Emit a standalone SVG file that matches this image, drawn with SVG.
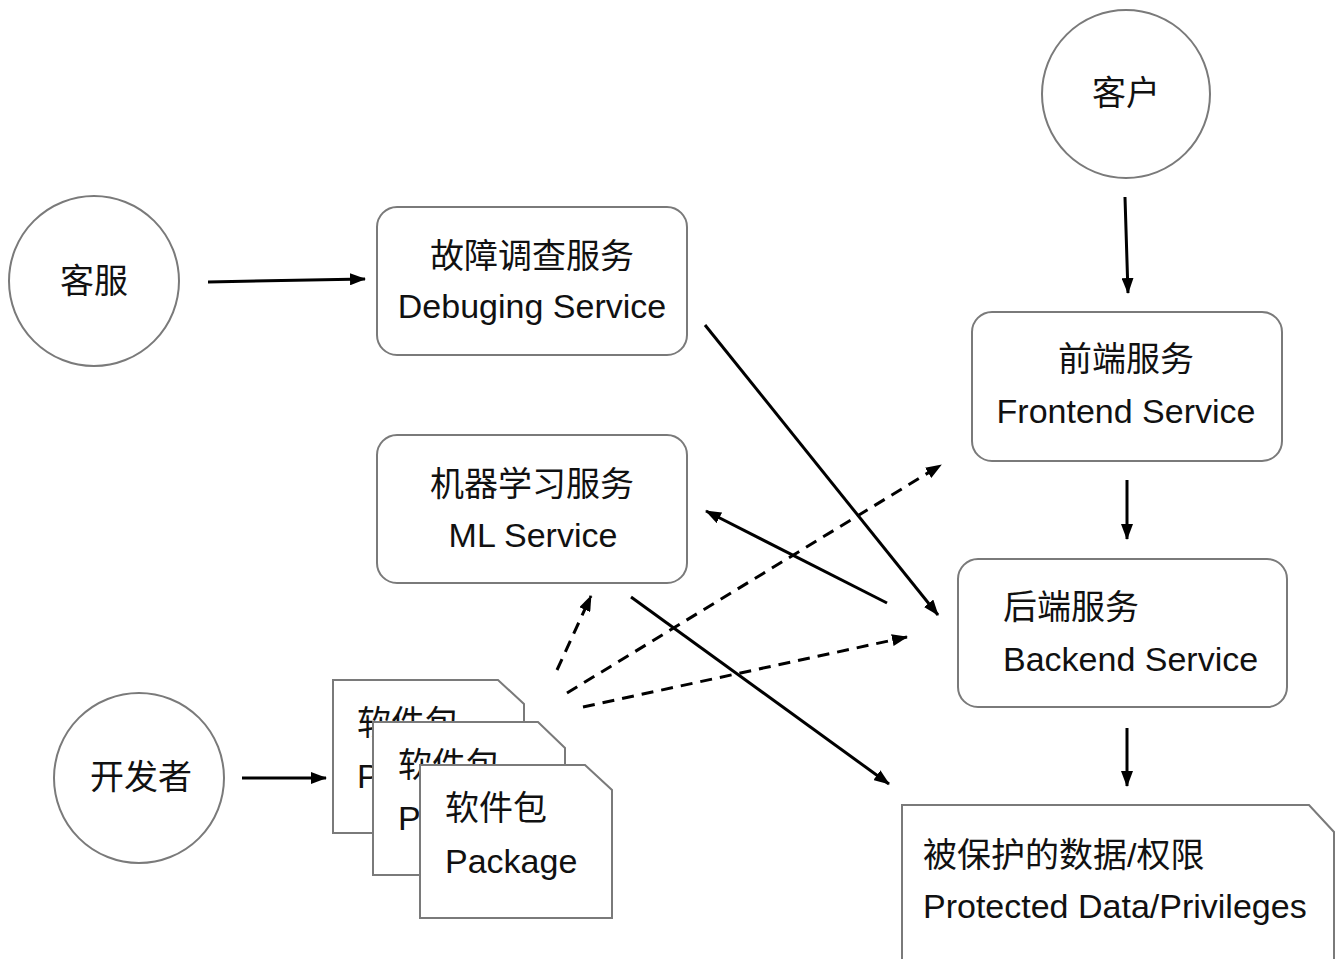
<svg xmlns="http://www.w3.org/2000/svg" width="1340" height="959" viewBox="0 0 1340 959">
<style>
.node{fill:#fff;stroke:#7a7a7a;stroke-width:2}
.t{font-family:"Liberation Sans","Noto Sans CJK SC",sans-serif;font-size:34px;fill:#111}
.c{text-anchor:middle}
.ln{stroke:#000;stroke-width:3;fill:none}
.d{stroke-dasharray:12 8}
</style>
<defs>
<marker id="ah" markerUnits="userSpaceOnUse" markerWidth="16" markerHeight="12" viewBox="0 0 16 12" refX="15" refY="6" orient="auto">
<path d="M0,0 L16,6 L0,12 z" fill="#000"/>
</marker>
</defs>
<rect width="1340" height="959" fill="#fff"/>
<g id="kehu">
<circle class="node" cx="1126" cy="94" r="84"/>
<text class="t c" x="1126" y="105">客户</text>
</g>
<g id="kefu">
<circle class="node" cx="94" cy="281" r="85"/>
<text class="t c" x="94" y="293">客服</text>
</g>
<g id="kaifazhe">
<circle class="node" cx="139" cy="778" r="85"/>
<text class="t c" x="141" y="789">开发者</text>
</g>
<g id="debug">
<rect class="node" x="377" y="207" width="310" height="148" rx="20"/>
<text class="t c" x="532" y="268">故障调查服务</text>
<text class="t c" x="532" y="318">Debuging Service</text>
</g>
<g id="ml">
<rect class="node" x="377" y="435" width="310" height="148" rx="20"/>
<text class="t c" x="532" y="496">机器学习服务</text>
<text class="t c" x="533" y="547">ML Service</text>
</g>
<g id="frontend">
<rect class="node" x="972" y="312" width="310" height="149" rx="20"/>
<text class="t c" x="1126" y="371">前端服务</text>
<text class="t c" x="1126" y="423">Frontend Service</text>
</g>
<g id="backend">
<rect class="node" x="958" y="559" width="329" height="148" rx="20"/>
<text class="t" x="1003" y="619">后端服务</text>
<text class="t" x="1003" y="671">Backend Service</text>
</g>
<g id="protected">
<path class="node" d="M902,970 L902,805 L1309,805 L1334,832 L1334,970"/>
<text class="t" x="923" y="867">被保护的数据/权限</text>
<text class="t" x="923" y="918">Protected Data/Privileges</text>
</g>
<g id="pkg1">
<path class="node" d="M333,680 L498,680 L524,704 L524,833 L333,833 z"/>
<text class="t" x="357" y="735">软件包</text>
<text class="t" x="357" y="788">Package</text>
</g>
<g id="pkg2">
<path class="node" d="M373,722 L538,722 L565,748 L565,875 L373,875 z"/>
<text class="t" x="398" y="777">软件包</text>
<text class="t" x="398" y="830">Package</text>
</g>
<g id="pkg3">
<path class="node" d="M420,765 L585,765 L612,790 L612,918 L420,918 z"/>
<text class="t" x="445" y="820">软件包</text>
<text class="t" x="445" y="873">Package</text>
</g>
<g id="connectors">
<line class="ln" x1="208" y1="282" x2="365" y2="279" marker-end="url(#ah)"/>
<line class="ln" x1="1125" y1="197" x2="1128" y2="293" marker-end="url(#ah)"/>
<line class="ln" x1="1127" y1="480" x2="1127" y2="539" marker-end="url(#ah)"/>
<line class="ln" x1="1127" y1="728" x2="1127" y2="786" marker-end="url(#ah)"/>
<line class="ln" x1="242" y1="778" x2="326" y2="778" marker-end="url(#ah)"/>
<line class="ln" x1="705" y1="325" x2="938" y2="615" marker-end="url(#ah)"/>
<line class="ln" x1="887" y1="603" x2="706" y2="511" marker-end="url(#ah)"/>
<line class="ln" x1="631" y1="597" x2="889" y2="784" marker-end="url(#ah)"/>
<line class="ln d" x1="557" y1="670" x2="591" y2="596" marker-end="url(#ah)"/>
<line class="ln d" x1="567" y1="693" x2="941" y2="465" marker-end="url(#ah)"/>
<line class="ln d" x1="583" y1="707" x2="907" y2="637" marker-end="url(#ah)"/>
</g>
</svg>
